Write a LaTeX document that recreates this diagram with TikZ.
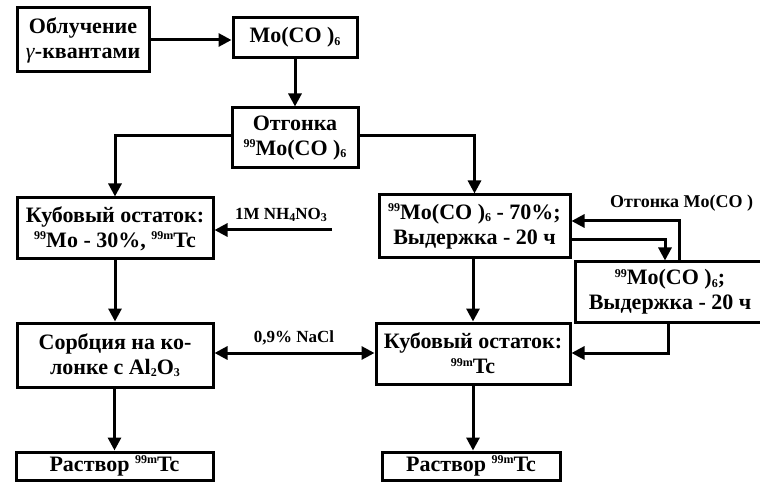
\documentclass[tikz,border=0pt]{standalone}
\usepackage{fontspec}
\setmainfont{Liberation Serif}
\usetikzlibrary{arrows.meta}
\newcommand{\sps}[1]{\raisebox{0.75ex}{\fontsize{12}{12}\selectfont #1}}
\newcommand{\sbs}[1]{\raisebox{-0.25ex}{\fontsize{12}{12}\selectfont #1}}
\begin{document}
\begin{tikzpicture}[x=1pt,y=-1pt,
 box/.style={draw,line width=3pt,align=center,inner sep=0pt,font=\bfseries\fontsize{22}{25}\selectfont},
 lbl/.style={font=\bfseries\fontsize{17}{20}\selectfont,inner sep=0pt},
 arr/.style={line width=3pt,-{Triangle[length=13pt,width=13pt]}},
 darr/.style={line width=3pt,{Triangle[length=13pt,width=13pt]}-{Triangle[length=13pt,width=13pt]}}]
\useasboundingbox[fill=white] (0,0) rectangle (760,486);
\node[box,minimum width=132pt,minimum height=64pt] (A) at (83,40) {Облучение\\\textmd{\textit{γ}}-квантами};
\node[box,minimum width=124pt,minimum height=40pt] (B) at (295,37.5) {Mo(CO )\sbs{6}};
\node[box,minimum width=126pt,minimum height=60pt] (C) at (295,138) {Отгонка\\\sps{99}Mo(CO )\sbs{6}};
\node[box,minimum width=196pt,minimum height=61pt] (D) at (115,228.5) {Кубовый остаток:\\\sps{99}Mo - 30\%, \sps{99m}Tc};
\node[box,minimum width=196pt,minimum height=64pt] (E) at (115,355) {Сорбция на ко-\\лонке с Al\sbs{2}O\sbs{3}};
\node[box,minimum width=197pt,minimum height=28pt] (F) at (114.5,466) {Раствор \sps{99m}Tc};
\node[box,minimum width=191pt,minimum height=63pt] (G) at (474.5,226.5) {\sps{99}Mo(CO )\sbs{6} - 70\%;\\Выдержка - 20 ч};
\node[box,minimum width=194pt,minimum height=61pt] (H) at (473,353.5) {Кубовый остаток:\\\sps{99m}Tc};
\node[box,minimum width=178pt,minimum height=28pt] (I) at (471,466) {Раствор \sps{99m}Tc};
\node[box,minimum width=190pt,minimum height=60pt] (J) at (670,292) {\sps{99}Mo(CO )\sbs{6};\\Выдержка - 20 ч};
\draw[arr] (A.east) -- (A.east -| B.west);
\draw[arr] (C.north |- B.south) -- (C.north);
\draw[arr] ([yshift=2pt]C.west) -| (D.north);
\draw[arr] ([yshift=2pt]C.east) -| (G.north);
\coordinate (n) at (332,230);
\draw[arr] (n) -- (n -| D.east);
\node[lbl] (nl) at (281,215) {1M NH\sbs{4}NO\sbs{3}};
\draw[arr] (D.south) -- (E.north);
\draw[arr] (E.south -| F.north) -- (F.north);
\draw[darr] ([yshift=2pt]E.east) -- ([yshift=2pt]E.east -| H.west);
\node[lbl] (na) at (294,338) {0,9\% NaCl};
\draw[arr] (G.south -| H.north) -- (H.north);
\draw[arr] (H.south) -- (H.south |- I.north);
\coordinate (g1) at (665,240);
\coordinate (g2) at (679,221);
\coordinate (g3) at (668,353);
\draw[arr] (G.east |- g1) -| (J.north -| g1);
\draw[arr] (J.north -| g2) |- (G.east |- g2);
\draw[arr] (J.south -| g3) |- (H.east |- g3);
\node[lbl,anchor=west,font=\bfseries\fontsize{18}{20}\selectfont] (ot) at (610,203) {Отгонка Mo(CO )};
\end{tikzpicture}
\end{document}
